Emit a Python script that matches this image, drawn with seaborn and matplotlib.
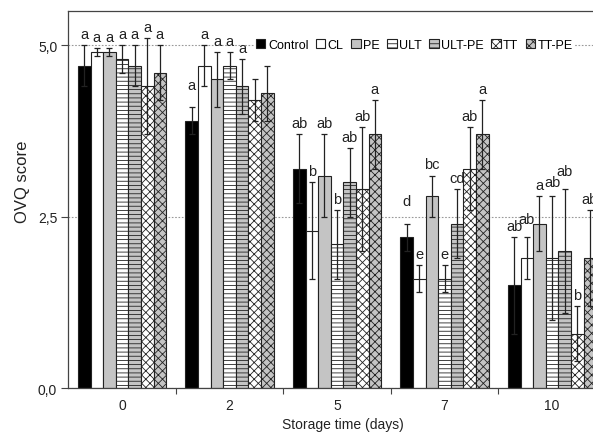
import numpy as np
import pandas as pd
import matplotlib
matplotlib.use("Agg")
import matplotlib.pyplot as plt
from matplotlib.ticker import FuncFormatter
import seaborn as sns

# ---------------- data ----------------
days = ['0', '2', '5', '7', '10']
treatments = ['Control', 'CL', 'PE', 'ULT', 'ULT-PE', 'TT', 'TT-PE']

control = [4.7, 3.9, 3.2, 2.2, 1.5]
cl = [4.9, 4.7, 2.3, 1.6, 1.9]
pe = [4.9, 4.5, 3.1, 2.8, 2.4]
ult = [4.8, 4.7, 2.1, 1.6, 1.9]
ult_pe = [4.7, 4.4, 3.0, 2.4, 2.0]
tt = [4.4, 4.2, 2.9, 3.2, 0.8]
tt_pe = [4.6, 4.3, 3.7, 3.7, 1.9]

control_sd = [0.3, 0.2, 0.5, 0.2, 0.7]
cl_sd = [0.06, 0.3, 0.7, 0.2, 0.3]
pe_sd = [0.06, 0.4, 0.6, 0.3, 0.4]
ult_sd = [0.2, 0.2, 0.5, 0.2, 0.9]
ult_pe_sd = [0.3, 0.4, 0.5, 0.5, 0.9]
tt_sd = [0.7, 0.3, 0.9, 0.6, 0.4]
tt_pe_sd = [0.4, 0.4, 0.5, 0.5, 0.7]

control_lbl = ['a', 'a', 'ab', 'd', 'ab']
cl_lbl = ['a', 'a', 'b', 'e', 'ab']
pe_lbl = ['a', 'a', 'ab', 'bc', 'a']
ult_lbl = ['a', 'a', 'b', 'e', 'ab']
ult_pe_lbl = ['a', 'a', 'ab', 'cd', 'ab']
tt_lbl = ['a', '', 'ab', 'ab', 'b']
tt_pe_lbl = ['a', '', 'a', 'a', 'ab']

means = [control, cl, pe, ult, ult_pe, tt, tt_pe]
sds = [control_sd, cl_sd, pe_sd, ult_sd, ult_pe_sd, tt_sd, tt_pe_sd]
letters = [control_lbl, cl_lbl, pe_lbl, ult_lbl, ult_pe_lbl, tt_lbl, tt_pe_lbl]

# ---------------- style ----------------
face_colors = ['#000000', '#ffffff', '#c4c4c4', '#ffffff', '#c4c4c4', '#ffffff', '#c4c4c4']
hatches = ['', '', '', '----', '----', 'xxxx', 'xxxx']
# extra lift (points) of some letter labels, as placed in the original figure
label_lift = {(0, 1): 8, (0, 3): 8, (1, 4): 5, (4, 4): 5, (3, 4): 2}

plt.rcParams['font.family'] = ['Liberation Sans', 'DejaVu Sans']
plt.rcParams['hatch.linewidth'] = 0.6
plt.rcParams['hatch.color'] = '#222222'

df = pd.concat([
    pd.DataFrame({'day': days, 'treatment': t, 'score': m})
    for t, m in zip(treatments, means)
], ignore_index=True)

fig = plt.figure(figsize=(5.93, 4.35), dpi=100)
ax = fig.add_axes([0.1152, 0.1046, 0.9064, 0.8685])

sns.barplot(data=df, x='day', y='score', hue='treatment', order=days,
            hue_order=treatments, palette=dict(zip(treatments, face_colors)),
            width=0.822, errorbar=None, edgecolor='#222222', linewidth=0.8,
            saturation=1, legend=False, ax=ax, zorder=2)

for cont, h in zip(ax.containers, hatches):
    for bar in cont:
        bar.set_hatch(h)

for i, (cont, sd, lbls) in enumerate(zip(ax.containers, sds, letters)):
    xs = [b.get_x() + b.get_width() / 2 for b in cont]
    ys = [b.get_height() for b in cont]
    ax.errorbar(xs, ys, yerr=sd, fmt='none', ecolor='#222222',
                elinewidth=0.9, capsize=2.5, capthick=0.9, zorder=5)
    for j, (x, y, s, l) in enumerate(zip(xs, ys, sd, lbls)):
        if l:
            lift = 3 + label_lift.get((i, j), 0)
            ax.annotate(l, (x, y + s), xytext=(0, lift), textcoords='offset points',
                        ha='center', va='bottom', fontsize=10.5, color='#222222',
                        zorder=6)

ax.set_xlim(-0.5, 4.5)
ax.set_ylim(0, 5.5)

ax.set_yticks([0, 2.5, 5.0])
ax.yaxis.set_major_formatter(FuncFormatter(lambda v, p: f"{v:.1f}".replace('.', ',')))
ax.tick_params(axis='y', length=5, width=0.8, color='#444444', labelsize=10,
               labelcolor='#222222', pad=3)
ax.set_axisbelow(True)
ax.yaxis.grid(True, color='#999999', linestyle=(0, (1.5, 1.5)), linewidth=0.8)

ax.set_xticks([0.5, 1.5, 2.5, 3.5], labels=[''] * 4)
ax.set_xticks(np.arange(len(days)), labels=days, minor=True)
ax.tick_params(axis='x', which='major', length=4, width=0.8, color='#444444')
ax.tick_params(axis='x', which='minor', length=0, labelsize=10,
               labelcolor='#222222', pad=7)

for side in ['left', 'top', 'bottom', 'right']:
    ax.spines[side].set_color('#444444')
    ax.spines[side].set_linewidth(0.9)

ax.set_ylabel('OVQ score', fontsize=12, color='#222222')
ax.yaxis.set_label_coords(-0.072, 0.55)
ax.set_xlabel('Storage time (days)', fontsize=10, color='#222222')
ax.xaxis.set_label_coords(0.51, -0.0765)

leg = ax.legend(ax.containers, treatments, ncol=7, loc='center',
                bbox_to_anchor=(0.644, 5.0 / 5.5), fontsize=9, frameon=True,
                facecolor='white', edgecolor='none', framealpha=1,
                handlelength=0.75, handleheight=0.75, handletextpad=0.2,
                columnspacing=0.6, borderpad=0.15, borderaxespad=0)
leg.get_frame().set_linewidth(0)

fig.savefig('out.png', dpi=100)
